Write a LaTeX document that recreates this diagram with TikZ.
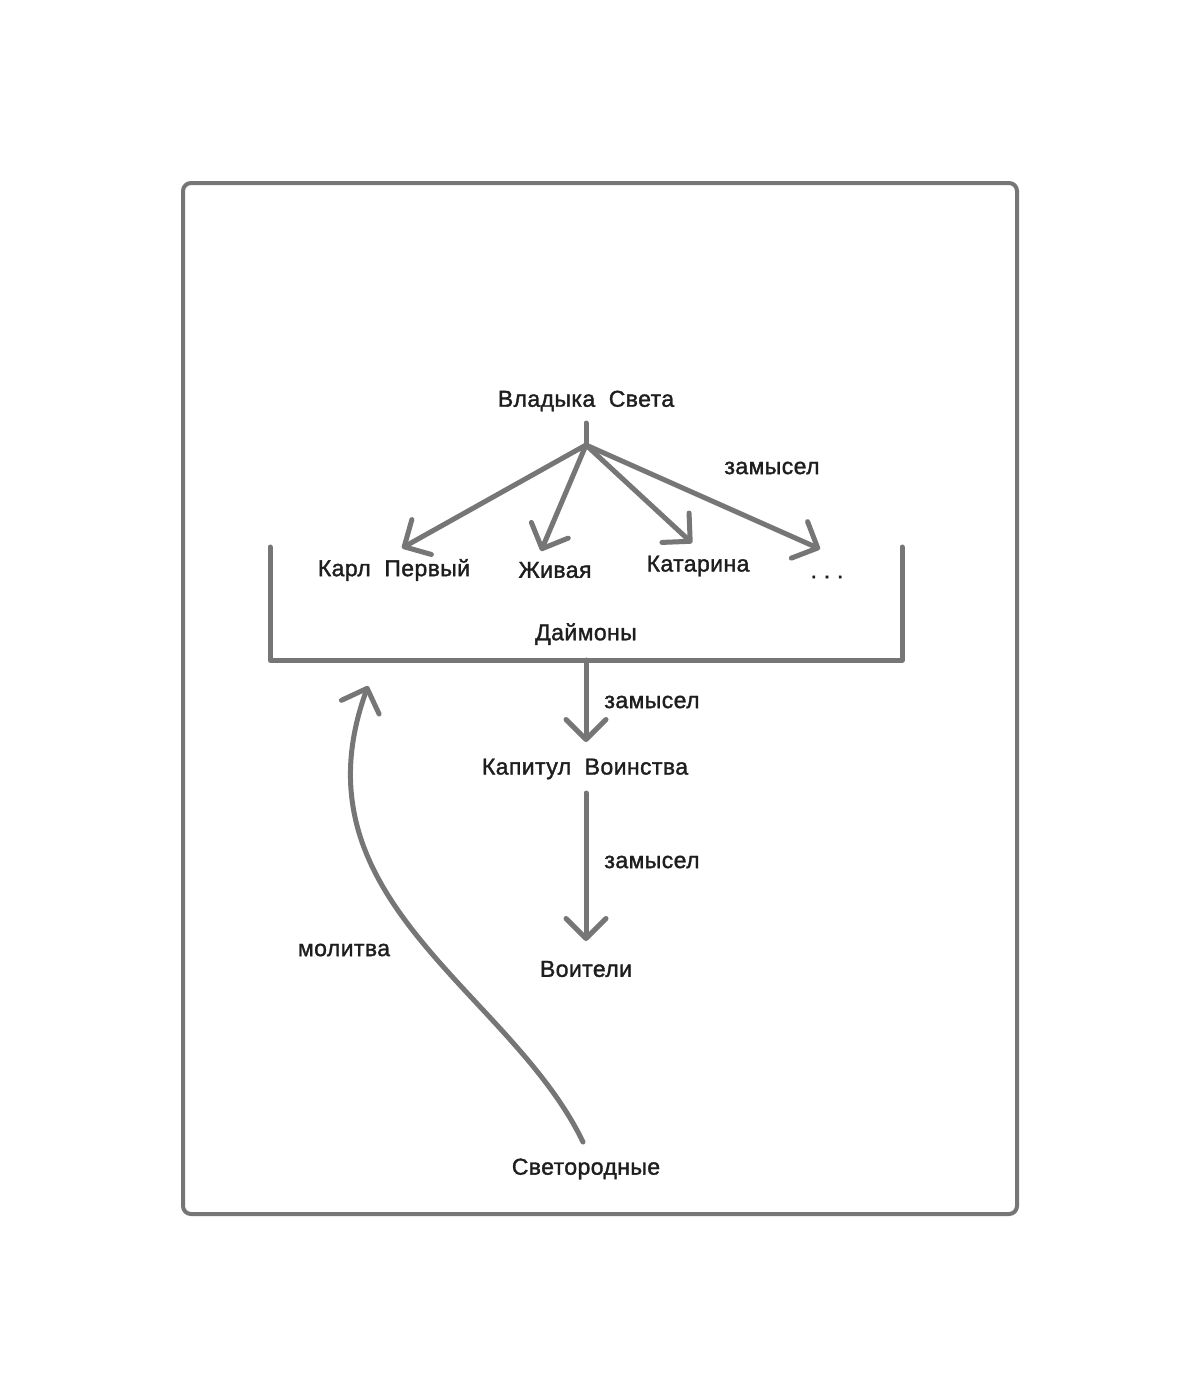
\documentclass[tikz,border=0pt]{standalone}
\usepackage{fontspec}
\setsansfont[LetterSpace=1.8,FakeBold=1.5]{Liberation Sans}
\usetikzlibrary{arrows.meta}
\definecolor{linegray}{RGB}{118,118,118}
\definecolor{txt}{RGB}{30,30,30}
\tikzset{
  lbl/.style={font=\sffamily\fontsize{11.5}{14}\selectfont, text=txt, inner sep=0pt, anchor=center},
  conn/.style={draw=linegray, line width=2.5pt, line cap=round, line join=round},
  arr/.style={conn, -{Straight Barb[length=10pt,width=20pt,round]}},
}
\begin{document}
\begin{tikzpicture}[x=0.5pt,y=-0.5pt]
\useasboundingbox (0,0) rectangle (1200,1397);
\fill[white] (0,0) rectangle (1200,1397);
% frame
\draw[draw=linegray, line width=2pt, rounded corners=4pt] (183,183) rectangle (1017,1214);

% text nodes
\node[lbl] (vladyka) at (586,401) {Владыка\ \ Света};
\node[lbl] (karl) at (394,570) {Карл\ \ Первый};
\node[lbl] (zhivaya) at (555,570) {Живая};
\node[lbl] (katarina) at (698,566) {Катарина};
\node[lbl] (dots) at (827,577) {.\ .\ .};
\node[lbl] (daimony) at (586,634) {Даймоны};
\node[lbl] (kapitul) at (585,769) {Капитул\ \ Воинства};
\node[lbl] (voiteli) at (586,969) {Воители};
\node[lbl] (svetorod) at (586,1169) {Светородные};
\node[lbl] (zam1) at (772,468) {замысел};
\node[lbl] (zam2) at (652,702) {замысел};
\node[lbl] (zam3) at (652,862) {замысел};
\node[lbl] (molitva) at (344,950) {молитва};

% coordinates
\coordinate (stubtop) at (586,423);
\coordinate (hub) at (586,445);
\coordinate (tkarl) at (402,548);
\coordinate (tzhiv) at (541,551);
\coordinate (tkat) at (692,543);
\coordinate (tdots) at (820,549);
\coordinate (brTL) at (270,547);
\coordinate (brBL) at (270,660);
\coordinate (brBR) at (902,660);
\coordinate (brTR) at (902,547);
\coordinate (brMid) at (586,660);
\coordinate (tkap) at (586,742);
\coordinate (kapBot) at (586,793);
\coordinate (tvoit) at (586,941);
\coordinate (curveStart) at (583,1142);
\coordinate (tpray) at (368,686);

% connectors
\draw[conn] (stubtop) -- (hub);
\draw[arr] (hub) -- (tkarl);
\draw[arr] (hub) -- (tzhiv);
\draw[arr] (hub) -- (tkat);
\draw[arr] (hub) -- (tdots);
\draw[conn] (brTL) -- (brBL) -- (brBR) -- (brTR);
\draw[arr] (brMid) -- (tkap);
\draw[arr] (kapBot) -- (tvoit);
\draw[arr] (curveStart) .. controls (510,990) and (290,900) .. (tpray);
\end{tikzpicture}
\end{document}
